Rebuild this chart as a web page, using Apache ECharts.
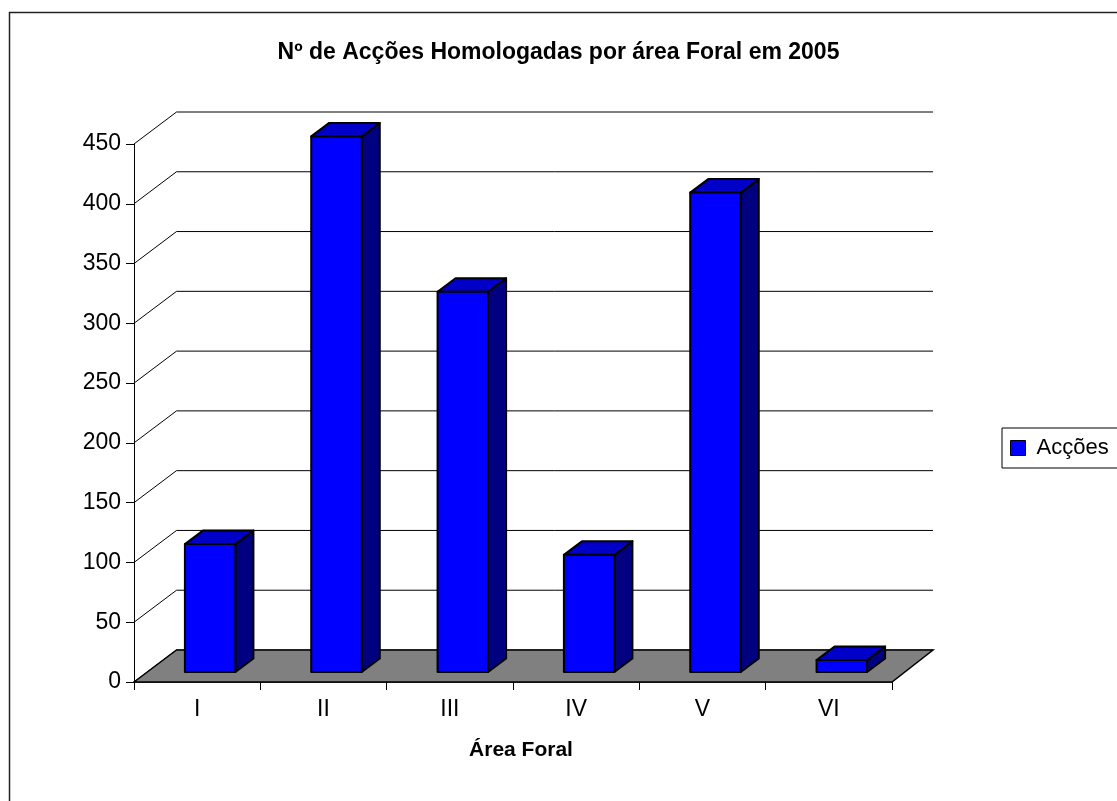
<!DOCTYPE html>
<html>
<head>
<meta charset="utf-8">
<script src="https://cdn.jsdelivr.net/npm/echarts@6/dist/echarts.min.js"></script>
<style>
html,body{margin:0;padding:0;background:#fff;}
#chart{width:1117px;height:801px;}
</style>
</head>
<body>
<div id="chart"></div>
<script>
const categories = ['I', 'II', 'III', 'IV', 'V', 'VI'];
const acções = [107, 448, 318, 98, 401, 10];
const gridValues = [0, 50, 100, 150, 200, 250, 300, 350, 400, 450];
const seriesName = 'Acções';
const chartTitle = 'Nº de Acções Homologadas por área Foral em 2005';
const xAxisTitle = 'Área Foral';

const FONT = '"Liberation Sans", Arial, sans-serif';
const DEPTH_X = 42.5, DEPTH_Y = -32;
const chart = echarts.init(document.getElementById('chart'));

function gridItem(params, api) {
  const v = api.value(0);
  const cw = api.size([1, 0])[0];
  const left = api.coord([0, v]);
  const right = api.coord([categories.length - 1, v]);
  const xl = left[0] - cw / 2, xr = right[0] + cw / 2, y = left[1];
  return {
    type: 'polyline',
    shape: { points: [[xl, y], [xl + DEPTH_X, y + DEPTH_Y], [xr + DEPTH_X - 1.5, y + DEPTH_Y]] },
    style: { stroke: '#000', lineWidth: 1, fill: null }
  };
}

function floorItem(params, api) {
  const cw = api.size([1, 0])[0];
  const left = api.coord([0, 0]);
  const right = api.coord([categories.length - 1, 0]);
  const xl = left[0] - cw / 2, xr = right[0] + cw / 2, y = left[1];
  return {
    type: 'polygon',
    shape: { points: [[xl, y], [xl + DEPTH_X, y + DEPTH_Y], [xr + DEPTH_X - 1.5, y + DEPTH_Y], [xr, y]] },
    style: { fill: '#808080', stroke: '#000', lineWidth: 1.5 }
  };
}

function barItem(params, api) {
  const i = api.value(0), v = api.value(1);
  const base = api.coord([i, 0]);
  const top = api.coord([i, v]);
  const cw = api.size([1, 0])[0];
  const bw = cw * 0.4;
  const fx = 13, fy = -10;
  const dx = 18, dy = -13.5;
  const x0 = base[0] - bw / 2 + fx, x1 = x0 + bw;
  const yb = base[1] + fy, yt = top[1] + fy;
  const stroke = { stroke: '#000', lineWidth: 2, lineJoin: 'round' };
  return {
    type: 'group',
    children: [
      { type: 'polygon', shape: { points: [[x1, yb], [x1 + dx, yb + dy], [x1 + dx, yt + dy], [x1, yt]] },
        style: Object.assign({ fill: '#000080' }, stroke) },
      { type: 'polygon', shape: { points: [[x0, yt], [x0 + dx, yt + dy], [x1 + dx, yt + dy], [x1, yt]] },
        style: Object.assign({ fill: '#0000C8' }, stroke) },
      { type: 'polygon', shape: { points: [[x0, yb], [x0, yt], [x1, yt], [x1, yb]] },
        style: Object.assign({ fill: '#0000FF' }, stroke) }
    ]
  };
}

chart.setOption({
  animation: false,
  backgroundColor: '#fff',
  title: {
    text: chartTitle,
    left: 'center',
    top: 36,
    textStyle: { fontFamily: FONT, fontSize: 23, fontWeight: 'bold', color: '#000' }
  },
  legend: {
    data: [{ name: seriesName, icon: 'rect' }],
    left: 1002,
    top: 428,
    orient: 'vertical',
    padding: [9, 12, 9, 8],
    itemWidth: 15,
    itemHeight: 15,
    borderColor: '#000',
    borderWidth: 1,
    itemStyle: { color: '#0000FF', borderColor: '#000', borderWidth: 1 },
    textStyle: { fontFamily: FONT, fontSize: 22, color: '#000', padding: [0, 0, 0, 6] },
    selectedMode: false
  },
  grid: { left: 134, right: 225, top: 144, bottom: 119 },
  xAxis: {
    type: 'category',
    data: categories,
    boundaryGap: true,
    axisLine: { lineStyle: { color: '#000', width: 1.5 } },
    axisTick: { show: true, alignWithLabel: false, length: 8, lineStyle: { color: '#000' } },
    axisLabel: { fontFamily: FONT, fontSize: 23, color: '#000', margin: 16 },
    name: xAxisTitle,
    nameLocation: 'middle',
    nameGap: 58,
    nameTextStyle: { fontFamily: FONT, fontSize: 21, fontWeight: 'bold', color: '#000', padding: [0, 0, 0, 16] },
    splitLine: { show: false }
  },
  yAxis: {
    type: 'value',
    min: 0,
    max: 450,
    interval: 50,
    axisLine: { show: true, lineStyle: { color: '#000', width: 1 } },
    axisTick: { show: true, length: 8, lineStyle: { color: '#000' } },
    axisLabel: { fontFamily: FONT, fontSize: 23, color: '#000', margin: 13 },
    splitLine: { show: false }
  },
  graphic: [{
    type: 'rect',
    shape: { x: 9.5, y: 12.5, width: 1130, height: 800 },
    style: { fill: null, stroke: '#222', lineWidth: 1.5 },
    z: 100, silent: true
  }],
  series: [
    { type: 'custom', name: 'grid', renderItem: gridItem, data: gridValues.map(v => [v]),
      clip: false, z: 1, silent: true, encode: { y: 0 } },
    { type: 'custom', name: 'floor', renderItem: floorItem, data: [[0]],
      clip: false, z: 2, silent: true },
    { type: 'custom', name: seriesName, renderItem: barItem,
      data: acções.map((v, i) => [i, v]),
      itemStyle: { color: '#0000FF' },
      encode: { x: 0, y: 1 },
      clip: false, z: 3 }
  ]
});
</script>
</body>
</html>
